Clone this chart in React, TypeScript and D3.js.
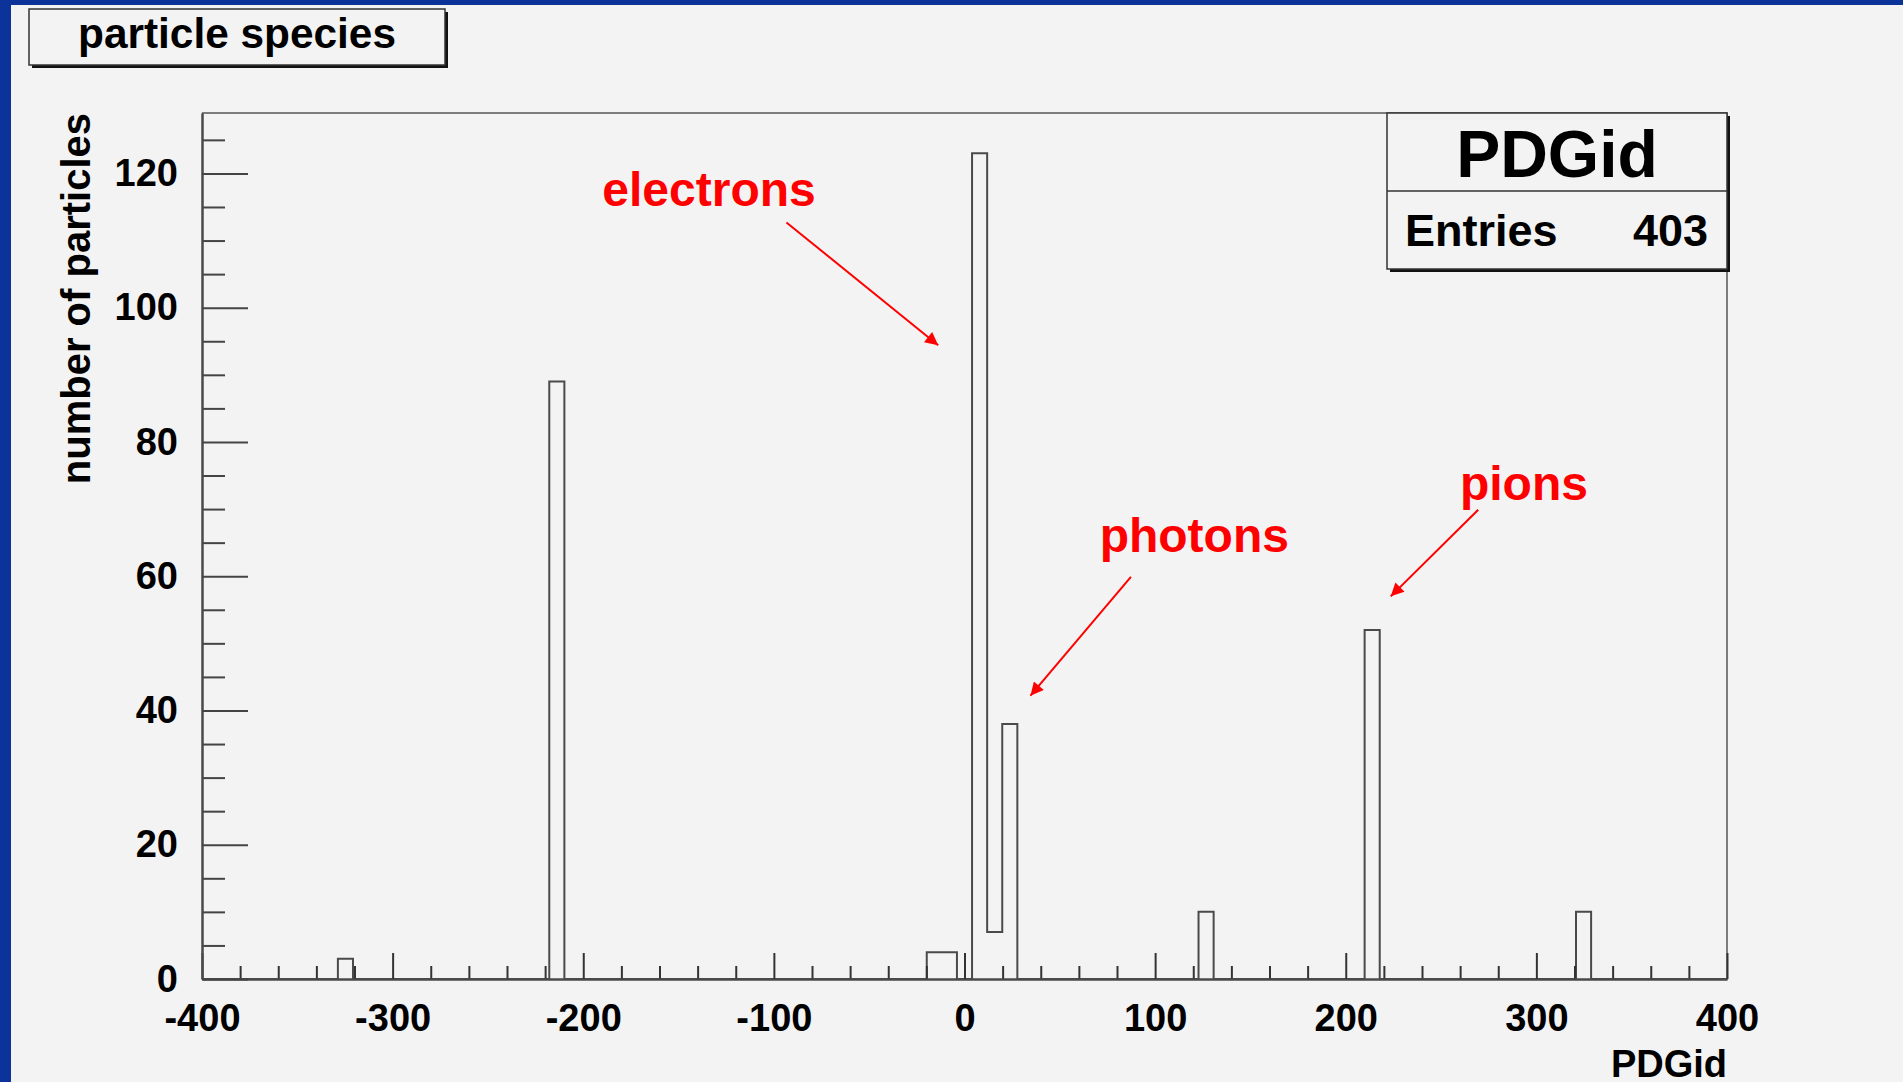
import { useEffect, useRef } from 'react';
import * as d3 from 'd3';

const W = 1903;
const H = 1082;

// histogram binning (101 bins over -400..400, like the TH1 it came from)
const xMin = -400;
const xMax = 400;
const nBins = 101;
const yMax = 129;

// PDG codes inside the range and how many particles each one had
const pdgIds = [-321, -211, -13, -11, 11, 13, 22, 130, 211, 321];
const counts = [3, 89, 4, 4, 123, 7, 38, 10, 52, 10];

const xMajorTicks = [-400, -300, -200, -100, 0, 100, 200, 300, 400];
const yMajorTicks = [0, 20, 40, 60, 80, 100, 120];

const histTitle = 'particle species';
const statsName = 'PDGid';
const entries = 403;

// red annotations, in data units
const notes = [
  { label: 'electrons', at: [-190, 115.2], from: [-93.4, 112.7], to: [-13.8, 94.4] },
  { label: 'photons', at: [70.9, 63.6], from: [87.3, 59.9], to: [34.6, 42.2] },
  { label: 'pions', at: [259.9, 71.3], from: [269.5, 69.9], to: [223.6, 57.0] },
];

const FONT = '"Liberation Sans", Arial, Helvetica, sans-serif';
const frame = { left: 202, right: 1727, top: 113, bottom: 979 };

export default function App() {
  const xAxisRef = useRef<SVGGElement>(null);
  const yAxisRef = useRef<SVGGElement>(null);

  const x = d3.scaleLinear().domain([xMin, xMax]).range([frame.left, frame.right]);
  const y = d3.scaleLinear().domain([0, yMax]).range([frame.bottom, frame.top]);

  // fill the bins
  const binW = (xMax - xMin) / nBins;
  const binCounts = new Array(nBins).fill(0);
  pdgIds.forEach((id, i) => {
    const k = Math.floor((id - xMin) / binW);
    binCounts[k] += counts[i];
  });

  // outline like ROOT's default histogram drawing
  const pts: [number, number][] = [[xMin, 0]];
  binCounts.forEach((c, k) => {
    pts.push([xMin + k * binW, c]);
    pts.push([xMin + (k + 1) * binW, c]);
  });
  pts.push([xMax, 0]);
  const outline = d3.line<[number, number]>().x(d => x(d[0])).y(d => y(d[1]))(pts);

  useEffect(() => {
    // plain hyphen for negatives, as in the original
    const fmt = (d: d3.NumberValue) => String(d);

    const gx = d3.select(xAxisRef.current);
    gx.selectAll('*').remove();
    const xMinor = d3.range(xMin, xMax + 1, 20).filter(v => !xMajorTicks.includes(v));
    gx.append('g').call(
      d3.axisBottom(x).tickValues(xMinor).tickSizeInner(-13).tickSizeOuter(0).tickFormat(() => '')
    );
    gx.append('g').call(
      d3.axisBottom(x).tickValues(xMajorTicks).tickSizeInner(-26).tickSizeOuter(0).tickPadding(25)
        .tickFormat(fmt)
    );
    gx.selectAll('.domain').attr('stroke', '#4a4a4a').attr('stroke-width', 2);
    gx.selectAll('.tick line').attr('stroke', '#333').attr('stroke-width', 2);
    gx.selectAll('text')
      .attr('font-family', FONT)
      .attr('font-weight', 'bold')
      .attr('font-size', 38)
      .attr('fill', '#000');

    const gy = d3.select(yAxisRef.current);
    gy.selectAll('*').remove();
    const yMinor = d3.range(0, 126, 5).filter(v => !yMajorTicks.includes(v));
    gy.append('g').call(
      d3.axisLeft(y).tickValues(yMinor).tickSizeInner(-23).tickSizeOuter(0).tickFormat(() => '')
    );
    gy.append('g').call(
      d3.axisLeft(y).tickValues(yMajorTicks).tickSizeInner(-46).tickSizeOuter(0).tickPadding(24)
        .tickFormat(fmt)
    );
    gy.selectAll('.domain').attr('stroke', '#4a4a4a').attr('stroke-width', 2);
    gy.selectAll('.tick line').attr('stroke', '#444').attr('stroke-width', 2);
    gy.selectAll('text')
      .attr('font-family', FONT)
      .attr('font-weight', 'bold')
      .attr('font-size', 38)
      .attr('fill', '#000');
  }, []);

  return (
    <svg width={W} height={H} style={{ position: 'fixed', left: 0, top: 0 }}>
      <defs>
        <marker id="head" viewBox="0 0 10 10" refX="10" refY="5" markerWidth="18" markerHeight="13"
          markerUnits="userSpaceOnUse" orient="auto">
          <path d="M0,0 L10,5 L0,10 z" fill="#ff0000" />
        </marker>
      </defs>
      <rect width={W} height={H} fill="#0b3399" />
      <rect x={11} y={5} width={W - 11} height={H - 5} fill="#f3f3f3" />

      {/* title box */}
      <rect x={32} y={12} width={416} height={56} fill="#111" />
      <rect x={29} y={9} width={416} height={56} fill="#f3f3f3" stroke="#333" strokeWidth={1.5} />
      <text x={237} y={48} textAnchor="middle" fontFamily={FONT} fontWeight="bold" fontSize={42}
        textLength={318} lengthAdjust="spacingAndGlyphs">
        {histTitle}
      </text>

      {/* frame top / right */}
      <path d={`M${frame.left},${frame.top}H${frame.right}V${frame.bottom}`} fill="none"
        stroke="#555" strokeWidth={1.5} />

      <path d={outline ?? ''} fill="none" stroke="#4a4a4a" strokeWidth={2} />

      <g ref={xAxisRef} transform={`translate(0,${frame.bottom})`} />
      <g ref={yAxisRef} transform={`translate(${frame.left},0)`} />

      <text x={frame.right} y={1077} textAnchor="end" fontFamily={FONT} fontWeight="bold" fontSize={38}>
        PDGid
      </text>
      <text transform={`translate(90,${frame.top}) rotate(-90)`} textAnchor="end" fontFamily={FONT}
        fontWeight="bold" fontSize={40}>
        number of particles
      </text>

      {/* stats box */}
      <rect x={1390} y={116} width={340} height={156} fill="#111" />
      <rect x={1387} y={113} width={340} height={156} fill="#f3f3f3" stroke="#333" strokeWidth={1.5} />
      <line x1={1387} x2={1727} y1={191} y2={191} stroke="#333" strokeWidth={1.5} />
      <text x={1557} y={177} textAnchor="middle" fontFamily={FONT} fontWeight="bold" fontSize={66}>
        {statsName}
      </text>
      <text x={1405} y={246} fontFamily={FONT} fontWeight="bold" fontSize={45}>Entries</text>
      <text x={1708} y={246} textAnchor="end" fontFamily={FONT} fontWeight="bold" fontSize={45}>
        {entries}
      </text>

      {/* annotations */}
      {notes.map(n => (
        <g key={n.label}>
          <text x={x(n.at[0])} y={y(n.at[1])} fill="#ff0000" fontFamily={FONT} fontWeight="bold"
            fontSize={48}>
            {n.label}
          </text>
          <line x1={x(n.from[0])} y1={y(n.from[1])} x2={x(n.to[0])} y2={y(n.to[1])} stroke="#ff0000"
            strokeWidth={2} markerEnd="url(#head)" />
        </g>
      ))}
    </svg>
  );
}
